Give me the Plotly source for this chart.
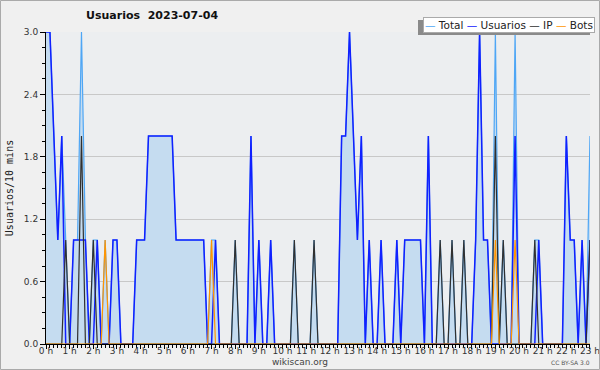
import plotly.graph_objects as go

# 10-minute slots from 00:00 to 23:00
slot_hours = [i / 6 for i in range(139)]

usuarios = [3,3,2,1,2,0,0,1,1,1,
            1,0,0,1,0,0,0,1,1,0,
            0,0,0,1,1,1,2,2,2,2,
            2,2,2,1,1,1,1,1,1,1,
            1,0,0,1,0,0,0,0,0,0,
            0,0,2,0,1,0,0,1,0,0,
            0,0,0,0,0,0,0,0,0,0,
            0,0,0,0,0,2,2,3,2,1,
            2,0,1,0,0,1,0,0,0,1,
            0,1,1,1,1,1,0,2,0,0,
            0,0,0,0,0,0,0,0,0,1,
            3,1,1,0,0,0,0,0,0,2,
            0,0,0,0,0,1,0,0,0,0,
            0,0,2,1,1,0,1,0,1]

ip = [0,0,0,0,0,1,0,0,0,2,
      0,0,1,0,0,0,0,0,0,0,
      0,0,0,0,0,0,0,0,0,0,
      0,0,0,0,0,0,0,0,0,0,
      0,0,0,0,0,0,0,0,1,0,
      0,0,0,0,0,0,0,0,0,0,
      0,0,0,1,0,0,0,0,1,0,
      0,0,0,0,0,0,0,0,0,0,
      0,0,0,0,0,0,0,0,0,0,
      0,0,0,0,0,0,0,0,0,0,
      1,0,0,1,0,0,1,0,0,0,
      0,0,0,0,2,0,1,0,0,0,
      0,0,0,0,1,0,0,0,0,0,
      0,0,0,0,0,0,0,0,1]

bots = [0,0,0,0,0,0,0,0,0,0,
        0,0,0,0,0,1,0,0,0,0,
        0,0,0,0,0,0,0,0,0,0,
        0,0,0,0,0,0,0,0,0,0,
        0,0,1,0,0,0,0,0,0,0,
        0,0,0,0,0,0,0,0,0,0,
        0,0,0,0,0,0,0,0,0,0,
        0,0,0,0,0,0,0,0,0,0,
        0,0,0,0,0,0,0,0,0,0,
        0,0,0,0,0,0,0,0,0,0,
        0,0,0,0,0,0,0,0,0,0,
        0,0,0,0,1,0,0,0,0,1,
        0,0,0,0,0,0,0,0,0,0,
        0,0,0,0,0,0,0,0,0]

total = [3,3,2,1,2,1,0,1,1,3,
         1,0,1,1,0,1,0,1,1,0,
         0,0,0,1,1,1,2,2,2,2,
         2,2,2,1,1,1,1,1,1,1,
         1,0,1,1,0,0,0,0,1,0,
         0,0,2,0,1,0,0,1,0,0,
         0,0,0,1,0,0,0,0,1,0,
         0,0,0,0,0,2,2,3,2,1,
         2,0,1,0,0,1,0,0,0,1,
         0,1,1,1,1,1,0,2,0,0,
         1,0,0,1,0,0,1,0,0,1,
         3,1,1,0,3,0,1,0,0,3,
         0,0,0,0,1,1,0,0,0,0,
         0,0,2,1,1,0,1,0,2]

hour_ticks = list(range(24))
hour_labels = [f"{h} h" for h in hour_ticks]
y_ticks = [0.0, 0.6, 1.2, 1.8, 2.4, 3.0]

C_TOTAL = "#4ea6f5"
C_FILL = "#c5dcf0"
C_USER = "#1020ff"
C_IP = "#303030"
C_BOTS = "#ff9500"

fig = go.Figure()
fig.add_trace(go.Scatter(x=slot_hours, y=total, mode="lines", name="Total",
                         line=dict(color=C_TOTAL, width=1.2),
                         fill="tozeroy", fillcolor=C_FILL))
fig.add_trace(go.Scatter(x=slot_hours, y=usuarios, mode="lines", name="Usuarios",
                         line=dict(color=C_USER, width=1.5)))
fig.add_trace(go.Scatter(x=slot_hours, y=ip, mode="lines", name="IP",
                         line=dict(color=C_IP, width=1.2)))
fig.add_trace(go.Scatter(x=slot_hours, y=bots, mode="lines", name="Bots",
                         line=dict(color=C_BOTS, width=1.2)))

L, R, T, B = 46, 10, 32, 26
W, H = 600, 370
pw, ph = W - L - R, H - T - B

def px(x):
    return (x - L) / pw

def py(y):
    return (H - B - y) / ph

tick_font = dict(family="DejaVu Sans", size=9, color="#333333")

fig.update_layout(
    width=W, height=H,
    margin=dict(l=L, r=R, t=T, b=B, pad=0, autoexpand=False),
    paper_bgcolor="#f0f0f0",
    plot_bgcolor="#eceef0",
    showlegend=False,
    xaxis=dict(range=[0, 23.001], tickmode="array", tickvals=hour_ticks, ticktext=hour_labels,
               automargin=False,
               showgrid=False, zeroline=False, showline=True, linecolor="#000000", linewidth=1,
               ticks="outside", ticklen=4, tickcolor="#000000", tickfont=tick_font,
               ticklabelstandoff=-6,
               minor=dict(dtick=1/6, ticks="outside", ticklen=3, tickcolor="#000000", showgrid=False)),
    yaxis=dict(range=[0, 3], tickmode="array", tickvals=y_ticks,
               ticktext=[f"{v:.1f}" for v in y_ticks],
               automargin=False,
               showgrid=True, gridcolor="#c8c8c8", gridwidth=1, zeroline=False,
               showline=True, linecolor="#000000", linewidth=1,
               ticks="outside", ticklen=5, tickcolor="#000000", tickfont=tick_font,
               title=dict(text="Usuarios/10 mins", font=dict(family="DejaVu Sans Mono", size=10, color="#222"),
                          standoff=8),
               minor=dict(dtick=0.15, ticks="outside", ticklen=3, tickcolor="#000000", showgrid=False)),
)

# outer border
fig.add_shape(type="rect", xref="paper", yref="paper",
              x0=px(0.5), x1=px(599.5), y0=py(369.5), y1=py(0.5),
              line=dict(color="#aaaaaa", width=1), fillcolor="rgba(0,0,0,0)", layer="above")

# title
fig.add_annotation(xref="paper", yref="paper", x=px(84), y=py(16), xanchor="left", yanchor="middle",
                   text="<b>Usuarios\u00a0\u00a02023-07-04</b>", showarrow=False,
                   font=dict(family="DejaVu Sans", size=11, color="#111111"))

# legend box with shadow
fig.add_shape(type="rect", xref="paper", yref="paper",
              x0=px(418), x1=px(590), y0=py(35), y1=py(20),
              line=dict(width=0), fillcolor="#8a8a8a", layer="above")
legend_text = (f'<span style="color:{C_TOTAL}">—</span> Total '
               f'<span style="color:{C_USER}">—</span> Usuarios '
               f'<span style="color:{C_IP}">—</span> IP '
               f'<span style="color:{C_BOTS}">—</span> Bots')
fig.add_annotation(xref="paper", yref="paper", x=px(595), y=py(17), xanchor="right", yanchor="top",
                   text=legend_text, showarrow=False, bgcolor="#ffffff", bordercolor="#aaaaaa",
                   borderwidth=1, borderpad=1,
                   font=dict(family="DejaVu Sans", size=10.5, color="#222222"))

fig.add_annotation(xref="paper", yref="paper", x=px(300), y=py(362), xanchor="center", yanchor="middle",
                   text="wikiscan.org", showarrow=False,
                   font=dict(family="DejaVu Sans", size=9, color="#444444"))
fig.add_annotation(xref="paper", yref="paper", x=px(592), y=py(362), xanchor="right", yanchor="middle",
                   text="CC BY-SA 3.0", showarrow=False,
                   font=dict(family="DejaVu Sans", size=6, color="#555555"))

fig.write_html("out.html", post_script="document.body.style.margin='0px';",
               config={"displayModeBar": False})
